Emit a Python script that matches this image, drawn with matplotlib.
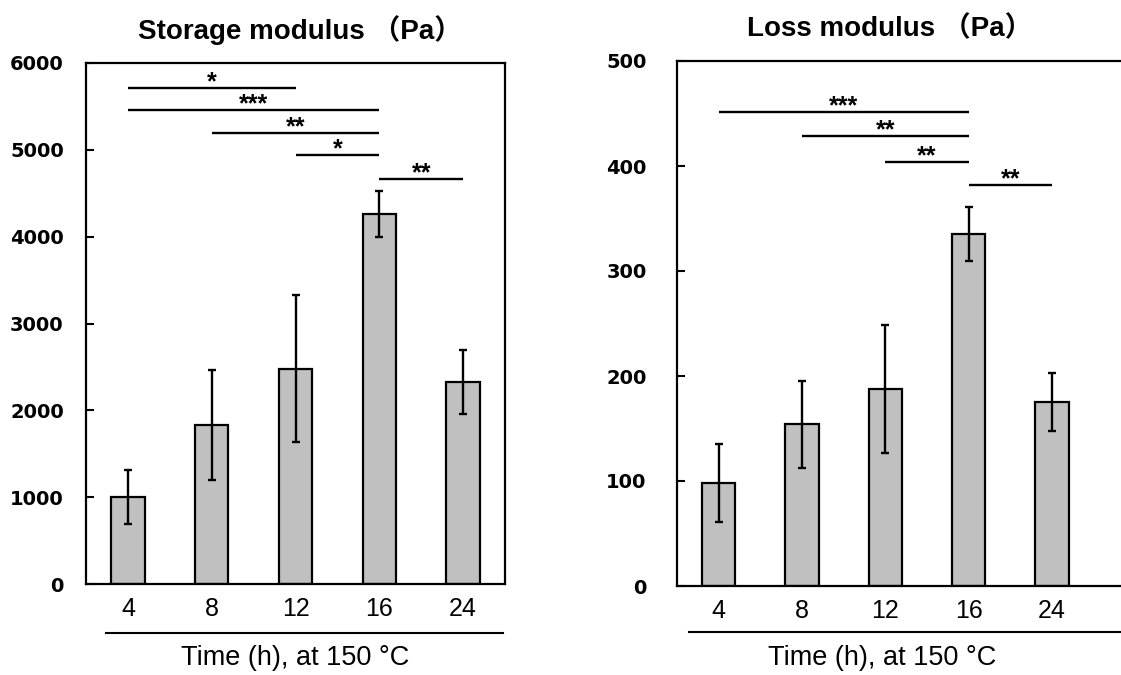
import matplotlib
matplotlib.use("Agg")
import matplotlib.pyplot as plt
from matplotlib.lines import Line2D

plt.rcParams['font.family'] = ['Liberation Sans', 'Noto Sans CJK JP', 'DejaVu Sans']

categories = ["4", "8", "12", "16", "24"]
storage_mean = [1003, 1830, 2480, 4264, 2326]
storage_err = [315, 630, 850, 267, 370]
loss_mean = [98, 154, 188, 335, 175.5]
loss_err = [37, 41.5, 61, 25.5, 27.5]

# significance brackets: (from index, to index, height, label)
storage_sig = [(0, 2, 5713, "*"), (0, 3, 5456, "***"), (1, 3, 5194, "**"),
               (2, 3, 4940, "*"), (3, 4, 4668, "**")]
loss_sig = [(0, 3, 451.8, "***"), (1, 3, 428.5, "**"), (2, 3, 404, "**"),
            (3, 4, 381.7, "**")]

storage_ticks = [0, 1000, 2000, 3000, 4000, 5000, 6000]
loss_ticks = [0, 100, 200, 300, 400, 500]

W, H = 1121, 675
fig = plt.figure(figsize=(W / 100, H / 100), dpi=100)

ax1 = fig.add_axes([86 / W, (H - 584) / H, 419 / W, 521 / H])
ax2 = fig.add_axes([677 / W, (H - 586) / H, 444 / W, 525 / H])

def draw(ax, means, errs, sig, ticks, ymax, xmax, pad):
    x = list(range(len(categories)))
    ax.bar(x, means, width=0.4, color="#C0C0C0", edgecolor="black",
           linewidth=1.6, zorder=2)
    ax.errorbar(x, means, yerr=errs, fmt="none", ecolor="black",
                elinewidth=1.7, capsize=3, capthick=1.7, zorder=3)
    for i, j, h, lab in sig:
        ax.plot([i, j], [h, h], color="black", lw=1.7, solid_capstyle="butt",
                zorder=3)
        ax.annotate(lab, xy=((i + j) / 2, h), xytext=(0, -1),
                    textcoords="offset points", ha="center", va="baseline",
                    fontsize=18, fontweight="bold")
    ax.set_xlim(-0.5, xmax)
    ax.set_ylim(0, ymax)
    ax.set_xticks(x)
    ax.set_xticklabels(categories, fontsize=18)
    ax.set_yticks(ticks)
    ax.set_yticklabels([str(t) for t in ticks], fontsize=14,
                       fontweight="bold", family="DejaVu Sans")
    ax.tick_params(axis="x", length=0, pad=9)
    ax.tick_params(axis="y", direction="in", length=6, width=1.5, pad=pad)
    for s in ax.spines.values():
        s.set_linewidth(1.6)

draw(ax1, storage_mean, storage_err, storage_sig, storage_ticks, 6000, 4.5, 16)
draw(ax2, loss_mean, loss_err, loss_sig, loss_ticks, 500,
     -0.5 + 444 / 83.3, 22)
ax2.spines["right"].set_visible(False)

# titles
fig.text(300 / W, (H - 39) / H, "Storage modulus （Pa）", ha="center",
         va="baseline", fontsize=20, fontweight="bold")
fig.text(890 / W, (H - 36) / H, "Loss modulus （Pa）", ha="center",
         va="baseline", fontsize=20, fontweight="bold")

# x-axis underline and label
fig.add_artist(Line2D([106 / W, 503 / W], [(H - 633) / H] * 2,
                      color="black", lw=1.5))
fig.add_artist(Line2D([689 / W, 1.0], [(H - 632) / H] * 2,
                      color="black", lw=1.5))
fig.text(295 / W, (H - 665) / H, "Time (h), at 150 °C", ha="center",
         va="baseline", fontsize=19.5)
fig.text(882 / W, (H - 665) / H, "Time (h), at 150 °C", ha="center",
         va="baseline", fontsize=19.5)

fig.savefig("out.png", dpi=100)
